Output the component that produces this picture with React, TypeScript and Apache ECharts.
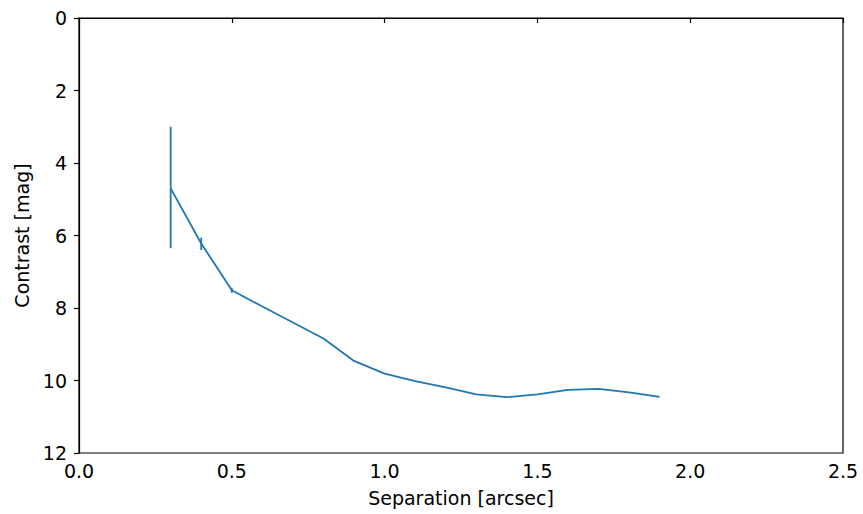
import React, { useEffect, useRef } from "react";
import * as echarts from "echarts";

const separation = [0.3, 0.4, 0.5, 0.6, 0.7, 0.8, 0.9, 1.0, 1.1, 1.2, 1.3, 1.4, 1.5, 1.6, 1.7, 1.8, 1.9];
const contrast = [4.7, 6.22, 7.51, 7.96, 8.4, 8.84, 9.46, 9.81, 10.02, 10.19, 10.38, 10.46, 10.38, 10.26, 10.23, 10.33, 10.45];
const errLow = [3.0, 6.06, 7.44];
const errHigh = [6.35, 6.4, 7.58];
const errX = [0.3, 0.4, 0.5];

const BLUE = "#1f77b4";
const FONT = "DejaVu Sans";
const FS = 19;

export default function App() {
  const ref = useRef<HTMLDivElement>(null);
  useEffect(() => {
    if (!ref.current) return;
    const chart = echarts.init(ref.current, undefined, { renderer: "svg" });
    const lineData = separation.map((x, i) => [x, contrast[i]]);
    const errData = errX.map((x, i) => [x, errLow[i], errHigh[i]]);
    chart.setOption({
      animation: false,
      backgroundColor: "#ffffff",
      grid: {
        left: 79,
        right: 20,
        top: 18,
        bottom: 61,
        show: true,
        borderColor: "#000",
        borderWidth: 1.2,
        backgroundColor: "transparent",
      },
      xAxis: {
        type: "value",
        min: 0,
        max: 2.5,
        interval: 0.5,
        name: "Separation [arcsec]",
        nameLocation: "middle",
        nameGap: 35,
        nameTextStyle: { fontFamily: FONT, fontSize: FS, color: "#000" },
        axisLine: { show: true, lineStyle: { color: "#000", width: 1.2 } },
        axisTick: { show: true, inside: false, length: 5, lineStyle: { color: "#000", width: 1.2 } },
        axisLabel: {
          fontFamily: FONT,
          fontSize: FS,
          color: "#000",
          margin: 8,
          formatter: (v: number) => v.toFixed(1),
        },
        splitLine: { show: false },
      },
      yAxis: {
        type: "value",
        min: 0,
        max: 12,
        interval: 2,
        inverse: true,
        name: "Contrast [mag]",
        nameLocation: "middle",
        nameGap: 47,
        nameTextStyle: { fontFamily: FONT, fontSize: FS, color: "#000" },
        axisLine: { show: true, lineStyle: { color: "#000", width: 1.2 } },
        axisTick: { show: true, inside: false, length: 5, lineStyle: { color: "#000", width: 1.2 } },
        axisLabel: { fontFamily: FONT, fontSize: FS, color: "#000", margin: 12 },
        splitLine: { show: false },
      },
      series: [
        {
          type: "line",
          data: lineData,
          showSymbol: false,
          symbol: "none",
          lineStyle: { color: BLUE, width: 1.8 },
          itemStyle: { color: BLUE },
          z: 3,
        },
        {
          type: "custom",
          data: errData,
          encode: { x: 0, y: [1, 2] },
          renderItem: (params: any, api: any) => {
            const x = api.value(0);
            const p1 = api.coord([x, api.value(1)]);
            const p2 = api.coord([x, api.value(2)]);
            return {
              type: "line",
              shape: { x1: p1[0], y1: p1[1], x2: p2[0], y2: p2[1] },
              style: { stroke: BLUE, lineWidth: 1.8 },
            };
          },
          z: 4,
        },
      ],
    });
    return () => chart.dispose();
  }, []);
  return <div ref={ref} style={{ width: 863, height: 514, position: "absolute", left: 0, top: 0 }} />;
}
